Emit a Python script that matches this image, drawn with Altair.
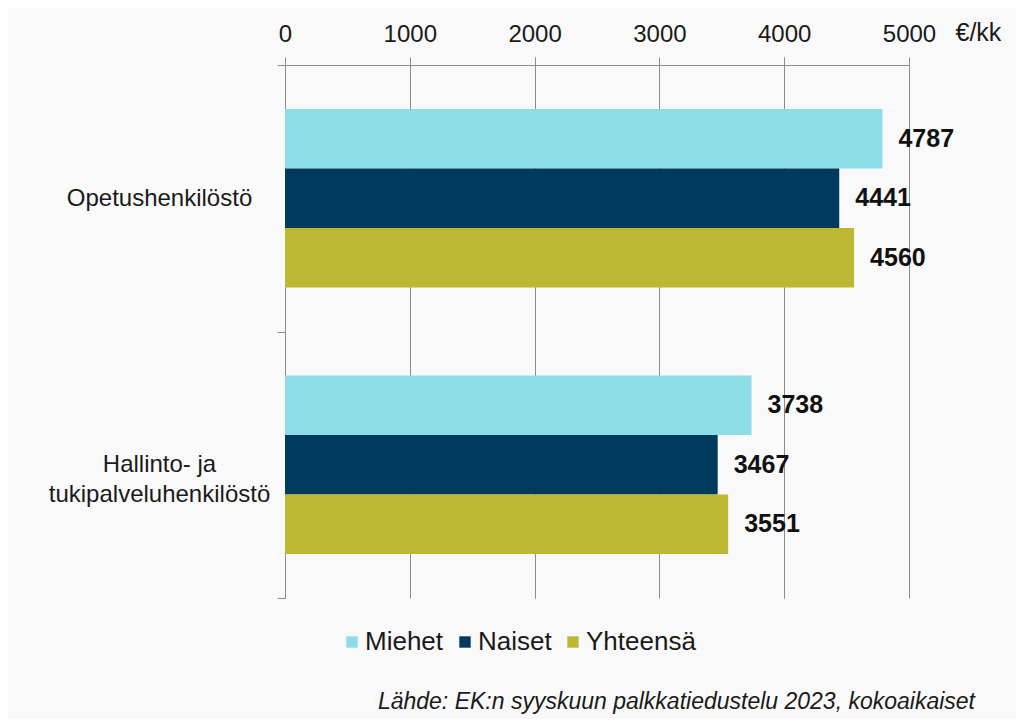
import altair as alt
import pandas as pd

categories = ["Opetushenkilöstö", "Hallinto- ja tukipalveluhenkilöstö"]
series = ["Miehet", "Naiset", "Yhteensä"]
values_opetus = [4787, 4441, 4560]
values_hallinto = [3738, 3467, 3551]
colors = ["#8edde6", "#003a5d", "#bdb834"]
x_ticks = [0, 1000, 2000, 3000, 4000, 5000]

rows = []
for cat, vals in zip(categories, [values_opetus, values_hallinto]):
    for s, v in zip(series, vals):
        rows.append({"Ryhmä": cat, "Sarja": s, "Arvo": v})
df = pd.DataFrame(rows)

FONT = "Liberation Sans"
GRID = "#8c8c8c"
TXT = "#1a1a1a"

base = alt.Chart(df).encode(
    y=alt.Y(
        "Ryhmä:N",
        sort=categories,
        scale=alt.Scale(paddingInner=0, paddingOuter=0),
        axis=alt.Axis(
            title=None,
            tickBand="extent",
            tickSize=8,
            tickColor=GRID,
            domainColor=GRID,
            labelAlign="center",
            labelPadding=118,
            labelFontSize=24,
            labelFont=FONT,
            labelColor=TXT,
            labelLineHeight=30,
            labelLimit=400,
            grid=False,
            labelExpr="datum.label == 'Hallinto- ja tukipalveluhenkilöstö' ? ['Hallinto- ja', 'tukipalveluhenkilöstö'] : datum.label",
        ),
    ),
    yOffset=alt.YOffset(
        "Sarja:N",
        sort=series,
        scale=alt.Scale(paddingInner=0, paddingOuter=0.74),
    ),
)

bars = base.mark_bar().encode(
    x=alt.X(
        "Arvo:Q",
        scale=alt.Scale(domain=[0, 5000], nice=False),
        axis=alt.Axis(
            orient="top",
            values=x_ticks,
            format="d",
            labelFlush=False,
            title="€/kk",
            titleAngle=0,
            titleX=670,
            titleY=-33,
            titleAlign="left",
            titleBaseline="middle",
            titleFontSize=25,
            titleFontWeight="normal",
            titleFont=FONT,
            titleColor=TXT,
            labelFontSize=24,
            labelFont=FONT,
            labelColor=TXT,
            labelPadding=11,
            tickSize=8,
            tickColor=GRID,
            domainColor=GRID,
            grid=True,
            gridColor=GRID,
            gridOpacity=1,
        ),
    ),
    color=alt.Color(
        "Sarja:N",
        sort=series,
        scale=alt.Scale(domain=series, range=colors),
        legend=alt.Legend(
            title=None,
            orient="none",
            legendX=54,
            legendY=564,
            direction="horizontal",
            symbolType="square",
            symbolSize=130,
            symbolStrokeWidth=0,
            labelFontSize=26,
            labelFont=FONT,
            labelColor=TXT,
            labelOffset=0,
            columnPadding=8,
        ),
    ),
)

labels = base.mark_text(
    align="left",
    baseline="middle",
    dx=16,
    fontSize=25,
    fontWeight="bold",
    font=FONT,
    color="#111111",
).encode(x="Arvo:Q", text=alt.Text("Arvo:Q", format="d"))

chart = (
    alt.layer(bars, labels)
    .properties(
        width=624,
        height=533,
        autosize=alt.AutoSizeParams(type="none"),
        padding={"left": 277, "top": 57, "right": 107, "bottom": 121},
        background="#f9f9f9",
        title=alt.TitleParams(
            "Lähde: EK:n syyskuun palkkatiedustelu 2023, kokoaikaiset",
            orient="bottom",
            anchor="end",
            frame="group",
            dx=66,
            offset=36,
            fontSize=23,
            fontStyle="italic",
            fontWeight="normal",
            font=FONT,
            color=TXT,
        ),
    )
    .configure_view(stroke=None)
)

chart.save("out.html", embed_options={"renderer": "svg", "actions": False})
